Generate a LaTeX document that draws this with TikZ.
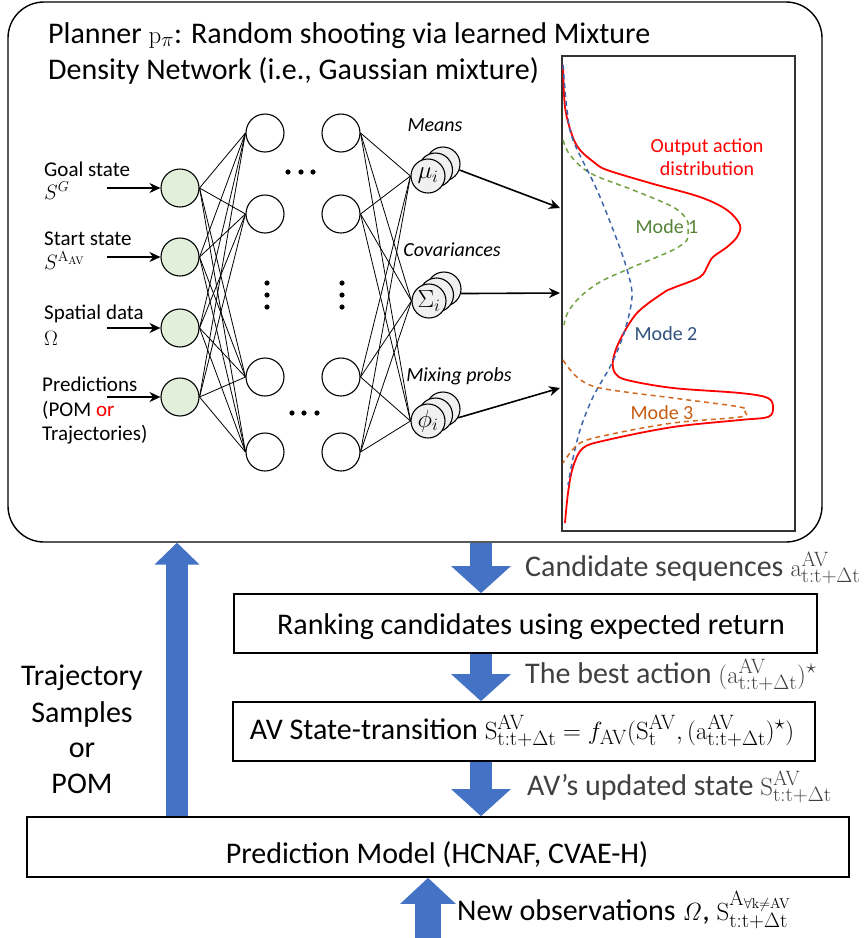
\documentclass[tikz,border=0pt]{standalone}
\usepackage[no-math]{fontspec}
\setmainfont{Carlito}
\usetikzlibrary{arrows.meta,calc}
\definecolor{blockblue}{HTML}{4472C4}
\definecolor{inputgreen}{HTML}{E2EFDA}
\definecolor{outgray}{HTML}{F0F0F0}
\definecolor{txtgray}{HTML}{404040}
\definecolor{modegreen}{HTML}{548235}
\definecolor{modeblue}{HTML}{2F4F80}
\definecolor{modeorange}{HTML}{C55A11}
\definecolor{dashgreen}{HTML}{70A040}
\definecolor{dashblue}{HTML}{3E64AA}
\definecolor{dashorange}{HTML}{D2691E}
\begin{document}
\begin{tikzpicture}[x=1pt,y=-1pt,
  inpnode/.style={circle,draw,line width=1.1pt,fill=inputgreen,minimum size=38pt,inner sep=0pt},
  hidnode/.style={circle,draw,line width=1.1pt,fill=white,minimum size=38pt,inner sep=0pt},
  outnode/.style={circle,draw,line width=1.1pt,fill=outgray,minimum size=34pt,inner sep=0pt,font=\fontsize{26}{28}\selectfont},
  wire/.style={line width=0.8pt},
  feed/.style={line width=1.6pt,-{Stealth[length=11pt,width=10pt]}},
  inlabel/.style={anchor=base west,inner sep=0pt,font=\fontsize{21}{24}\selectfont},
  headlabel/.style={anchor=base,inner sep=0pt,font=\fontsize{20}{24}\selectfont\itshape},
  plotlabel/.style={anchor=base,inner sep=0pt,font=\fontsize{20}{24}\selectfont},
  flowbox/.style={draw,line width=1.6pt,inner sep=0pt},
  flowtext/.style={anchor=base,inner sep=0pt,font=\fontsize{30}{34}\selectfont},
  sidetext/.style={anchor=base west,inner sep=0pt,text=txtgray,font=\fontsize{30}{34}\selectfont},
  blk/.style={line width=22pt,draw=blockblue,-{Triangle[length=27pt,width=58pt]}},
  mode/.style={line width=1.5pt,dash pattern=on 5pt off 4pt}
]
\useasboundingbox (0,0) rectangle (867,938);

% planner frame and its title
\node[draw,line width=1.4pt,rounded corners=36pt,minimum width=814pt,minimum height=540pt,inner sep=0pt] (planner) at (415,272) {};
\node[anchor=base west,inner sep=0pt,font=\fontsize{30}{34}\selectfont] (title1) at (48,43) {Planner $\mathrm{p}_\pi$: Random shooting via learned Mixture};
\node[anchor=base west,inner sep=0pt,font=\fontsize{30}{34}\selectfont] (title2) at (48,79) {Density Network (i.e., Gaussian mixture)};

% input layer
\node[inpnode] (g1) at (180,188) {};
\node[inpnode] (g2) at (180,257) {};
\node[inpnode] (g3) at (180,328) {};
\node[inpnode] (g4) at (180,397) {};

% hidden layers
\foreach \n/\y in {1/133,2/214,3/377,4/452}{
  \node[hidnode] (a\n) at (265,\y) {};
  \node[hidnode] (b\n) at (341,\y) {};
}

% output heads, drawn as stacks of three circles
\foreach \nm/\x/\y/\sym in {mu/428/176/\mu_i, sg/429/301/\Sigma_i, ph/428/421/\phi_i}{
  \node[outnode] (\nm3) at (\x+15,\y-12) {};
  \node[outnode] (\nm2) at (\x+7.5,\y-6) {};
  \node[outnode] (\nm) at (\x,\y) {$\sym$};
}

% connections
\foreach \i in {1,...,4}{
  \foreach \j in {1,...,4}{
    \draw[wire] (g\i.east) -- (a\j.west);
  }
  \foreach \o in {mu,sg,ph}{
    \draw[wire] (b\i.east) -- (\o.west);
  }
}

% ellipsis dots between and within the hidden layers
\foreach \x in {288,301,313} \fill (\x,172) circle (2.6pt);
\foreach \x in {292,304,317} \fill (\x,413) circle (2.6pt);
\foreach \y in {283,295,307}{
  \fill (267,\y) circle (2.6pt);
  \fill (342,\y) circle (2.6pt);
}

% input labels and feed arrows
\coordinate (f1) at (107,188);
\coordinate (f2) at (107,257);
\coordinate (f3) at (107,328);
\coordinate (f4) at (107,397);
\foreach \i in {1,...,4} \draw[feed] (f\i) -- (g\i.west);
\node[inlabel] (l1a) at (44,176) {Goal state};
\node[inlabel] (l1b) at (44,199) {$S^G$};
\node[inlabel] (l2a) at (44,245) {Start state};
\node[inlabel] (l2b) at (44,269) {$S^{\mathrm{A}_{\mathrm{AV}}}$};
\node[inlabel] (l3a) at (44,319) {Spatial data};
\node[inlabel] (l3b) at (44,345) {$\Omega$};
\node[inlabel] (l4a) at (42,391) {Predictions};
\node[inlabel] (l4b) at (42,416) {(POM \textcolor{red}{or}};
\node[inlabel] (l4c) at (42,440) {Trajectories)};

% head labels
\node[headlabel] (hm) at (435,131) {Means};
\node[headlabel] (hs) at (452,256) {Covariances};
\node[headlabel] (hp) at (459,381) {Mixing probs};

% output distribution panel
\node[draw=black!80,line width=1.4pt,minimum width=233pt,minimum height=475pt,inner sep=0pt] (dist) at (678.5,293.5) {};
\coordinate (d1) at (560,208);
\coordinate (d2) at (560,293);
\coordinate (d3) at (560,388);
\draw[feed] (mu3.-20) -- (d1);
\draw[feed] (sg3.-15) -- (d2);
\draw[feed] (ph3.-30) -- (d3);

\draw[red,line width=1.8pt] plot[smooth,tension=0.55] coordinates {
  (563,65) (565,107) (572,135) (580,150) (595,163) (607,170) (650,183) (700,197)
  (727,210) (740,225) (737,237) (727,247) (713,257) (708,265) (700,277) (673,288)
  (663,293) (637,313) (620,340) (613,360) (615,373) (627,380) (673,388) (740,393)
  (768,398) (773,408) (768,417) (740,420) (673,427) (607,440) (583,448) (573,467)
  (568,493) (565,523)};
\draw[mode,dashgreen] plot[smooth,tension=0.55] coordinates {
  (563,140) (570,155) (590,173) (633,190) (673,207) (687,220) (688,232) (687,240)
  (673,250) (633,267) (600,282) (580,297) (568,312) (564,325)};
\draw[mode,dashblue] plot[smooth,tension=0.55] coordinates {
  (563,65) (567,110) (573,140) (597,190) (617,240) (628,273) (632,297) (625,330)
  (612,363) (593,397) (580,430) (572,463) (568,485)};
\draw[mode,dashorange] plot[smooth,tension=0.55] coordinates {
  (563,360) (577,377) (600,388) (673,398) (740,407) (745,412) (740,417) (673,423)
  (607,435) (580,443) (567,457) (563,463)};

\node[plotlabel,text=red] (oad1) at (707,152) {Output action};
\node[plotlabel,text=red] (oad2) at (707,175) {distribution};
\node[plotlabel,text=modegreen] (m1) at (667,233) {Mode 1};
\node[plotlabel,text=modeblue] (m2) at (666,340) {Mode 2};
\node[plotlabel,text=modeorange] (m3) at (662,419) {Mode 3};

% planning loop below the planner
\node[flowbox,minimum width=583pt,minimum height=59pt] (rank) at (525.5,623.5) {};
\node[flowtext] (rankt) at (531,634) {Ranking candidates using expected return};
\node[flowbox,minimum width=582pt,minimum height=59pt] (trans) at (524,731.5) {};
\node[flowtext] (transt) at (522,739) {AV State-transition $\mathrm{S}^{\mathrm{AV}}_{\mathrm{t:t+\Delta t}} = f_{\mathrm{AV}}(\mathrm{S}^{\mathrm{AV}}_{\mathrm{t}}, (\mathrm{a}^{\mathrm{AV}}_{\mathrm{t:t+\Delta t}})^\star)$};
\node[flowbox,minimum width=822pt,minimum height=60pt] (pred) at (438,847) {};
\node[flowtext] (predt) at (437,863) {Prediction Model (HCNAF, CVAE-H)};

\coordinate (colA) at (481,0);
\coordinate (colB) at (177,0);
\coordinate (colC) at (428,0);
\coordinate (feedin) at (428,938);
\draw[blk] (colA |- planner.south) -- (colA |- rank.north);
\draw[blk] (colA |- rank.south) -- (colA |- trans.north);
\draw[blk] (colA |- trans.south) -- (colA |- pred.north);
\draw[blk,-{Triangle[length=22pt,width=44pt]}] (colB |- pred.north) -- (colB |- planner.south);
\draw[blk,line width=26pt,-{Triangle[length=26pt,width=54pt]}] (feedin) -- (colC |- pred.south);

\node[sidetext] (s1) at (525,576) {Candidate sequences $\mathrm{a}^{\mathrm{AV}}_{\mathrm{t:t+\Delta t}}$};
\node[sidetext] (s2) at (525,683) {The best action $(\mathrm{a}^{\mathrm{AV}}_{\mathrm{t:t+\Delta t}})^\star$};
\node[sidetext] (s3) at (527,795) {AV’s updated state $\mathrm{S}^{\mathrm{AV}}_{\mathrm{t:t+\Delta t}}$};
\node[sidetext,text=black] (s4) at (457,920) {New observations $\mathit{\Omega}$, $\mathrm{S}^{\mathrm{A}_{\forall\mathrm{k}\neq\mathrm{AV}}}_{\mathrm{t:t+\Delta t}}$};

\node[flowtext] (tr1) at (82,685) {Trajectory};
\node[flowtext] (tr2) at (82,722) {Samples};
\node[flowtext] (tr3) at (82,757) {or};
\node[flowtext] (tr4) at (82,793) {POM};
\end{tikzpicture}
\end{document}
